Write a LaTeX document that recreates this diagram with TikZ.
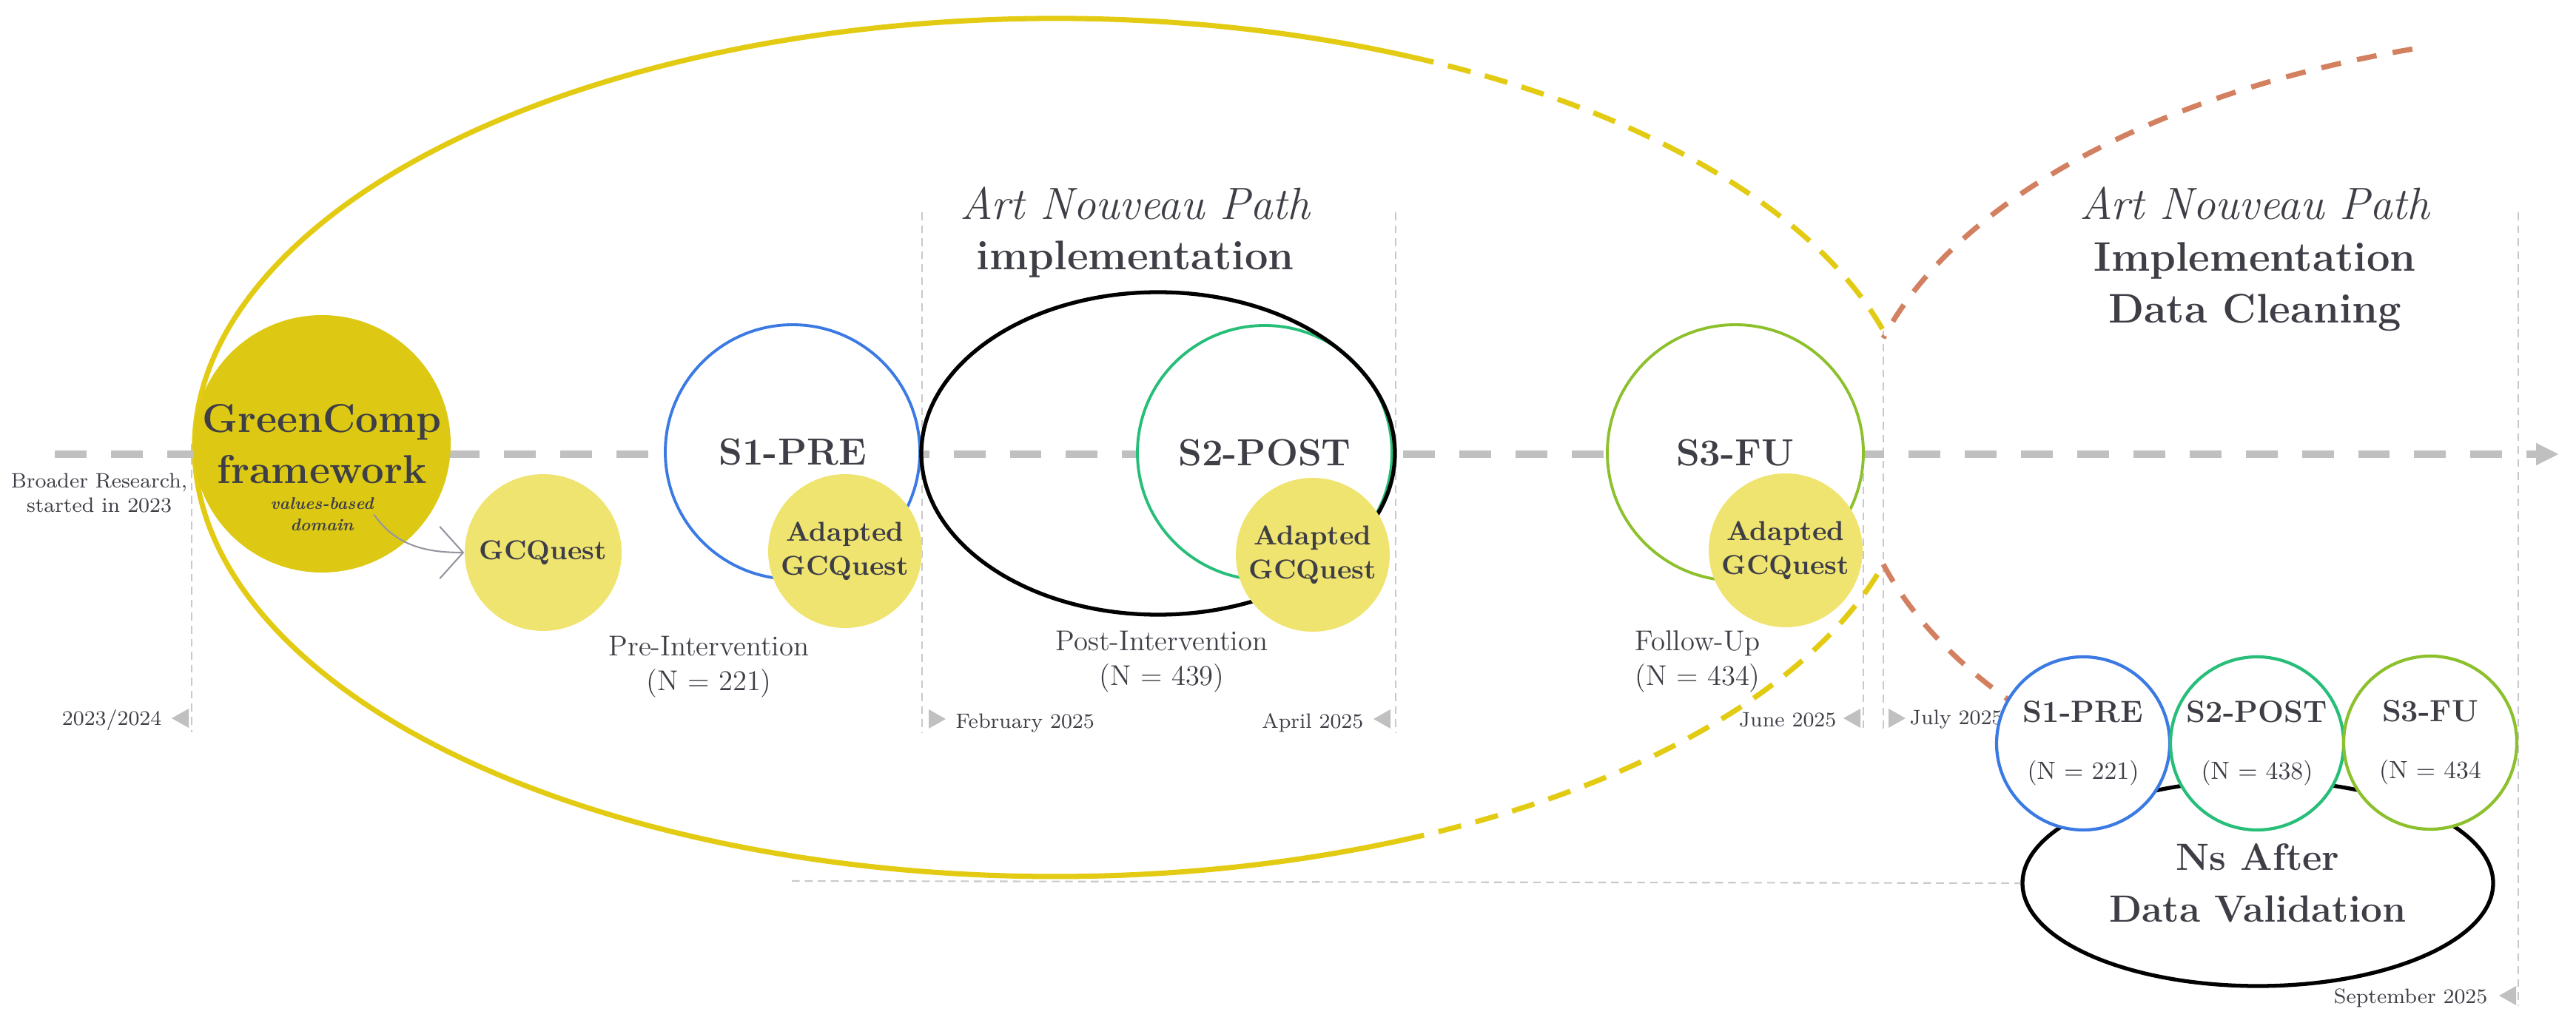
\documentclass[tikz,border=0pt]{standalone}
\usepackage{tikz}
\usetikzlibrary{shapes.geometric,arrows.meta}

\definecolor{txtgray}{RGB}{62,62,70}
\definecolor{gold}{RGB}{221,201,20}
\definecolor{lightgold}{RGB}{240,228,112}
\definecolor{ellgold}{RGB}{226,203,18}
\definecolor{s1blue}{RGB}{58,122,226}
\definecolor{s2green}{RGB}{38,190,120}
\definecolor{s3lime}{RGB}{140,192,44}
\definecolor{rust}{RGB}{210,128,96}
\definecolor{tlgray}{RGB}{192,192,192}
\definecolor{guidegray}{RGB}{200,200,206}
\definecolor{arrowgray}{RGB}{150,150,160}

\tikzset{
  wave/.style={circle, draw, fill=white, line width=1.1pt, minimum size=3.44cm, inner sep=0pt,
    text=txtgray, font=\fontsize{14.5}{17}\selectfont\bfseries},
  quest/.style={circle, fill=lightgold, minimum size=2.08cm, inner sep=0pt, align=center,
    text=txtgray, font=\fontsize{10.5}{13}\selectfont\bfseries},
  smallwave/.style={circle, draw, fill=white, line width=1.2pt, minimum size=2.34cm, inner sep=0pt,
    align=center, text=txtgray, font=\fontsize{9.6}{22}\selectfont},
  guide/.style={guidegray, line width=0.6pt, dash pattern=on 3pt off 2pt},
  datelbl/.style={text=txtgray, font=\fontsize{8}{9.4}\selectfont, inner sep=0pt},
  phase/.style={text=txtgray, align=center, font=\fontsize{11}{13.4}\selectfont, inner sep=0pt},
  heading/.style={anchor=base, text=txtgray, font=\fontsize{17.4}{20}\selectfont\itshape},
  subheading/.style={anchor=base, text=txtgray, font=\fontsize{15.9}{19}\selectfont\bfseries},
  tri/.style={fill=tlgray},
}

\begin{document}
\begin{tikzpicture}
    \useasboundingbox (0,0) rectangle (34.81,13.82);

    % Guides
    \foreach \x/\ya/\yb in {2.59/7.82/3.92, 12.46/10.95/3.92, 18.86/10.95/3.92,
        25.18/7.42/3.92, 25.45/9.35/3.92, 34.03/10.95/0.22}
        \draw[guide] (\x,\ya) -- (\x,\yb);

    % Big yellow loop
    \begin{scope}[shift={(14.26,7.77)}, ellgold, line width=2pt]
        \draw (65.6:11.63 and 5.8) arc[start angle=65.6, end angle=293.7, x radius=11.63, y radius=5.8];
        \draw[dash pattern=on 9pt off 5.7pt] (65.6:11.63 and 5.8) arc[start angle=65.6, end angle=15.8, x radius=11.63, y radius=5.8];
        \draw[dash pattern=on 9pt off 5.7pt] (-66.3:11.63 and 5.8) arc[start angle=-66.3, end angle=-15.8, x radius=11.63, y radius=5.8];
    \end{scope}

    % Timeline
    \coordinate (tl0) at (0.74,7.68);
    \coordinate (tl1) at (34.58,7.68);
    \draw[tlgray, line width=2.85pt, dash pattern=on 12.2pt off 9.4pt,
        -{Triangle[length=0.31cm, width=0.28cm]}] (tl0) -- (tl1);

    % Orange loop
    \begin{scope}[shift={(36.00,7.72)}, rust, line width=2pt, dash pattern=on 7.7pt off 6.3pt]
        \draw (108.1:10.95 and 5.72) arc[start angle=108.1, end angle=164.5, x radius=10.95, y radius=5.72];
        \draw (195.5:10.95 and 5.72) arc[start angle=195.5, end angle=216, x radius=10.95, y radius=5.72];
    \end{scope}

    % GreenComp
    \node[circle, fill=gold, minimum size=3.48cm, inner sep=0pt, align=center, text=txtgray,
        font=\fontsize{15.5}{19.6}\selectfont\bfseries] (gc) at (4.35,7.82) {GreenComp\\framework};
    \node[text=txtgray, align=center, inner sep=0pt,
        font=\fontsize{6.5}{8.3}\selectfont\bfseries\itshape] (vb) at (4.35,6.865) {values-based\\domain};
    \node[quest, minimum size=2.12cm] (gcq) at (7.34,6.35) {GCQuest};
    \draw[arrowgray, line width=0.6pt, -{Straight Barb[length=9pt, width=20pt]}]
        (vb.east) to[out=-55, in=180] (gcq.west);
    \node[datelbl, align=center] (broad) at (1.34,7.155) {Broader Research,\\started in 2023};

    % Waves
    \node[wave, draw=s1blue] (pre) at (10.71,7.71) {S1-PRE};
    \node[quest] (q1) at (11.42,6.37) {Adapted\\GCQuest};
    \node[wave, draw=s2green] (post) at (17.09,7.70) {S2-POST};
    \node[ellipse, draw, line width=1.5pt, minimum width=6.40cm, minimum height=4.36cm] (path1) at (15.65,7.69) {};
    \node[quest] (q2) at (17.74,6.32) {Adapted\\GCQuest};
    \node[wave, draw=s3lime, minimum size=3.46cm] (fu) at (23.45,7.70) {S3-FU};
    \node[quest] (q3) at (24.13,6.38) {Adapted\\GCQuest};

    \node[phase] (prelbl) at (9.58,4.80) {Pre-Intervention\\(N = 221)};
    \node[phase] (postlbl) at (15.70,4.875) {Post-Intervention\\(N = 439)};
    \node[phase] (fulbl) at (22.94,4.875) {Follow-Up\\(N = 434)};

    % Titles
    \node[heading] (anp1) at (15.34,10.85) {Art Nouveau Path};
    \node[subheading] (impl1) at (15.34,10.17) {implementation};
    \node[heading] (anp2) at (30.47,10.85) {Art Nouveau Path};
    \node[subheading] (impl2) at (30.47,10.15) {Implementation};
    \node[subheading] (clean) at (30.47,9.45) {Data Cleaning};

    % Dates
    \node[datelbl, anchor=base east] (d0) at (2.19,4.02) {2023/2024};
    \fill[tri] ([shift={(0.13,0.09)}]d0.base east) -- ++(0.23,0.13) -- ++(0,-0.26) -- cycle;
    \node[datelbl, anchor=base west] (d1) at (12.91,3.98) {February 2025};
    \fill[tri] ([shift={(-0.13,0.12)}]d1.base west) -- ++(-0.23,0.13) -- ++(0,-0.26) -- cycle;
    \node[datelbl, anchor=base east] (d2) at (18.43,3.98) {April 2025};
    \fill[tri] ([shift={(0.13,0.12)}]d2.base east) -- ++(0.23,0.13) -- ++(0,-0.26) -- cycle;
    \node[datelbl, anchor=base east] (d3) at (24.82,4.00) {June 2025};
    \fill[tri] ([shift={(0.09,0.11)}]d3.base east) -- ++(0.23,0.13) -- ++(0,-0.26) -- cycle;
    \node[datelbl, anchor=base west] (d4) at (25.80,4.03) {July 2025};
    \fill[tri] ([shift={(-0.05,0.08)}]d4.base west) -- ++(-0.23,0.13) -- ++(0,-0.26) -- cycle;
    \node[datelbl, anchor=base east] (d5) at (33.62,0.26) {September 2025};
    \fill[tri] ([shift={(0.15,0.10)}]d5.base east) -- ++(0.23,0.13) -- ++(0,-0.26) -- cycle;

    % Validated Ns
    \node[ellipse, draw, line width=1.5pt, minimum width=6.36cm, minimum height=2.78cm, inner sep=0pt,
        align=center, text=txtgray, font=\fontsize{14.6}{19.9}\selectfont\bfseries] (ns) at (30.51,1.88) {Ns After\\Data Validation};
    \coordinate (hl) at (10.70,1.91);
    \draw[guide] (hl) -- (ns.west);
    \node[smallwave, draw=s1blue] (ns1) at (28.15,3.77) {{\fontsize{11.8}{22}\selectfont\bfseries S1-PRE}\\(N = 221)};
    \node[smallwave, draw=s2green] (ns2) at (30.50,3.77) {{\fontsize{11.8}{22}\selectfont\bfseries S2-POST}\\(N = 438)};
    \node[smallwave, draw=s3lime] (ns3) at (32.84,3.78) {{\fontsize{11.8}{22}\selectfont\bfseries S3-FU}\\(N = 434};
\end{tikzpicture}
\end{document}
